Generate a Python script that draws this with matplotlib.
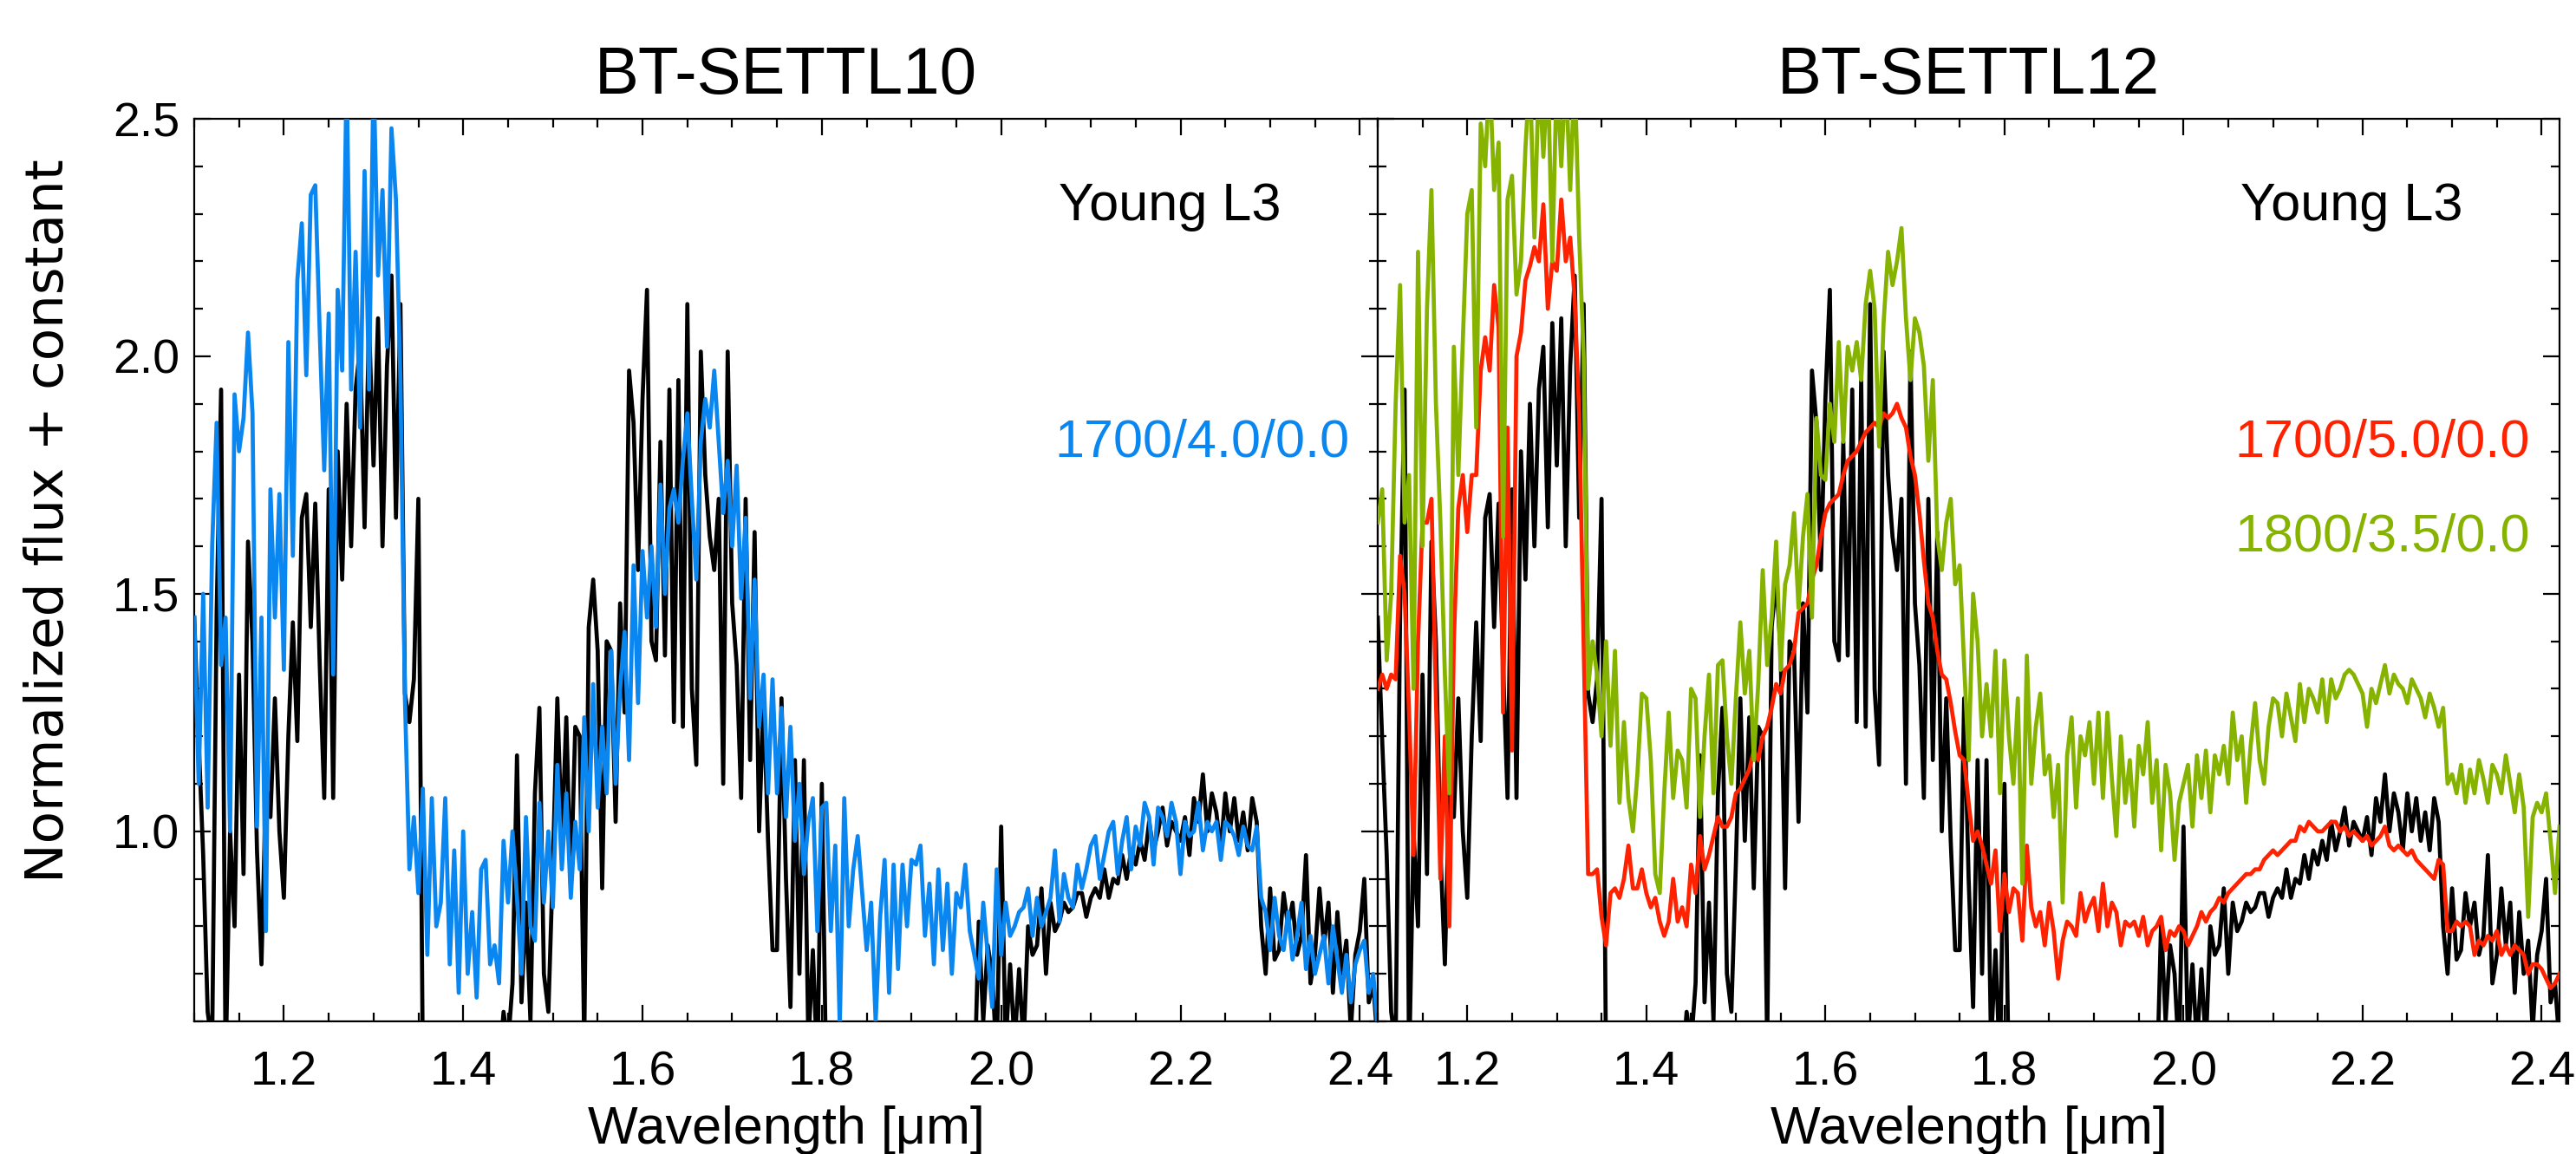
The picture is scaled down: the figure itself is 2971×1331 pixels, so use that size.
import numpy as np
import matplotlib
matplotlib.use('Agg')
import matplotlib.pyplot as plt
from matplotlib.ticker import MultipleLocator, FormatStrFormatter

plt.rcParams['font.family'] = ['Liberation Sans', 'DejaVu Sans']

# wavelength grid of the sampled spectra (micron)
WL_START = 1.100
WL_STEP = 0.005

# observed young L3 spectrum (black), one row = 0.05 micron
black_flux = [
    1.45, 1.19, 0.95, 0.62, 0.55, 1.46, 1.93, 0.50, 1.00, 0.80,
    1.33, 0.91, 1.61, 1.40, 0.96, 0.72, 1.10, 1.03, 1.28, 1.00,
    0.86, 1.20, 1.44, 1.19, 1.66, 1.71, 1.43, 1.69, 1.35, 1.07,
    1.72, 1.07, 1.80, 1.53, 1.90, 1.60, 1.93, 2.02, 1.64, 2.07,
    1.77, 2.08, 1.60, 1.98, 2.17, 1.66, 2.11, 1.29, 1.23, 1.32,
    1.70, 0.50, 0.45, 0.45, 0.45, 0.45, 0.45, 0.45, 0.45, 0.45,
    0.45, 0.45, 0.45, 0.45, 0.45, 0.45, 0.45, 0.45, 0.50, 0.62,
    0.55, 0.68, 1.16, 0.64, 0.85, 0.60, 1.08, 1.26, 0.70, 0.62,
    0.93, 1.28, 0.98, 1.24, 0.88, 1.22, 1.20, 0.55, 1.43, 1.53,
    1.38, 0.88, 1.40, 1.38, 1.02, 1.48, 1.25, 1.97, 1.86, 1.55,
    1.91, 2.14, 1.40, 1.36, 1.82, 1.37, 1.93, 1.23, 1.95, 1.22,
    2.11, 1.30, 1.14, 2.01, 1.75, 1.62, 1.55, 1.70, 1.10, 2.01,
    1.48, 1.35, 1.07, 1.70, 1.15, 1.63, 1.00, 1.28, 0.98, 0.75,
    0.75, 1.28, 0.90, 0.63, 1.15, 0.70, 1.15, 0.55, 0.75, 0.50,
    1.10, 0.45, 0.45, 0.45, 0.45, 0.45, 0.45, 0.45, 0.45, 0.45,
    0.45, 0.45, 0.45, 0.45, 0.45, 0.45, 0.45, 0.45, 0.45, 0.45,
    0.45, 0.45, 0.45, 0.45, 0.45, 0.45, 0.45, 0.45, 0.45, 0.45,
    0.45, 0.45, 0.45, 0.45, 0.45, 0.81, 0.60, 0.76, 0.70, 0.52,
    1.01, 0.55, 0.72, 0.55, 0.71, 0.55, 0.80, 0.74, 0.76, 0.88,
    0.70, 0.85, 0.79, 0.81, 0.85, 0.83, 0.84, 0.87, 0.87, 0.82,
    0.86, 0.88, 0.86, 0.92, 0.86, 0.90, 0.89, 0.95, 0.90, 0.96,
    0.93, 0.98, 0.94, 1.02, 0.96, 1.00, 1.05, 0.97, 1.02, 1.00,
    0.98, 1.03, 0.95, 1.07, 1.02, 1.12, 1.00, 1.08, 1.04, 0.96,
    1.08, 1.00, 1.07, 0.98, 1.04, 0.96, 1.07, 1.02, 0.80, 0.70,
    0.88, 0.73, 0.75, 0.87, 0.80, 0.85, 0.74, 0.78, 0.95, 0.68,
    0.74, 0.88, 0.76, 0.85, 0.66, 0.83, 0.70, 0.77, 0.58, 0.74,
    0.79, 0.90, 0.64, 0.68, 0.55,
]

# BT-SETTL10 1700/4.0/0.0 (blue)
blue_flux = [
    1.45, 1.10, 1.50, 1.05, 1.60, 1.86, 1.35, 1.45, 1.00, 1.92,
    1.80, 1.87, 2.05, 1.88, 1.01, 1.45, 0.79, 1.72, 1.45, 1.71,
    1.34, 2.03, 1.58, 2.16, 2.28, 1.96, 2.34, 2.36, 2.05, 1.76,
    2.09, 1.33, 2.14, 1.97, 2.60, 1.93, 2.22, 1.85, 2.39, 1.93,
    2.60, 2.17, 2.35, 2.02, 2.48, 2.33, 1.95, 1.28, 0.92, 1.03,
    0.87, 1.09, 0.74, 1.07, 0.80, 0.85, 1.07, 0.72, 0.96, 0.66,
    1.00, 0.70, 0.83, 0.65, 0.92, 0.94, 0.72, 0.76, 0.68, 0.98,
    0.85, 1.00, 0.86, 0.70, 1.03, 0.80, 0.77, 1.06, 0.85, 1.00,
    0.84, 1.14, 0.92, 1.08, 0.86, 1.02, 0.92, 1.24, 1.00, 1.31,
    1.05, 1.22, 1.08, 1.38, 1.10, 1.30, 1.42, 1.15, 1.56, 1.27,
    1.59, 1.45, 1.60, 1.43, 1.73, 1.50, 1.68, 1.72, 1.65, 1.78,
    1.88, 1.70, 1.53, 1.82, 1.91, 1.85, 1.97, 1.82, 1.67, 1.78,
    1.60, 1.77, 1.49, 1.66, 1.28, 1.53, 1.22, 1.33, 1.08, 1.32,
    1.08, 1.26, 1.03, 1.22, 0.98, 1.10, 0.91, 1.02, 1.07, 0.79,
    1.05, 1.06, 0.79, 0.97, 0.59, 1.07, 0.80, 0.92, 0.99, 0.87,
    0.75, 0.85, 0.60, 0.82, 0.94, 0.66, 0.93, 0.71, 0.93, 0.80,
    0.94, 0.93, 0.97, 0.78, 0.89, 0.72, 0.92, 0.75, 0.89, 0.70,
    0.87, 0.84, 0.93, 0.79, 0.74, 0.69, 0.85, 0.74, 0.63, 0.92,
    0.74, 0.85, 0.78, 0.80, 0.83, 0.84, 0.88, 0.78, 0.86, 0.80,
    0.83, 0.86, 0.96, 0.81, 0.91, 0.86, 0.84, 0.93, 0.88, 0.92,
    0.97, 0.99, 0.90, 0.95, 1.00, 1.02, 0.91, 0.98, 1.03, 0.92,
    1.01, 0.97, 1.06, 1.03, 0.93, 1.05, 1.03, 0.99, 1.06, 1.02,
    0.91, 1.02, 0.99, 1.00, 1.06, 0.96, 1.02, 1.00, 1.02, 0.94,
    1.02, 1.01, 0.99, 0.95, 1.01, 0.97, 0.96, 1.01, 0.86, 0.83,
    0.75, 0.86, 0.78, 0.75, 0.83, 0.73, 0.78, 0.85, 0.71, 0.78,
    0.70, 0.74, 0.78, 0.68, 0.80, 0.73, 0.66, 0.74, 0.64, 0.72,
    0.75, 0.77, 0.66, 0.70, 0.58,
]

# BT-SETTL12 1700/5.0/0.0 (red)
red_flux = [
    1.30, 1.33, 1.30, 1.33, 1.32, 1.58, 1.50, 1.25, 0.95, 1.40,
    1.65, 1.65, 1.70, 1.28, 0.90, 1.20, 0.80, 1.40, 1.68, 1.75,
    1.63, 1.75, 1.75, 1.97, 2.04, 1.97, 2.15, 2.06, 1.25, 1.85,
    1.17, 2.00, 2.05, 2.16, 2.19, 2.23, 2.20, 2.32, 2.10, 2.20,
    2.18, 2.33, 2.20, 2.25, 2.12, 1.88, 1.40, 0.91, 0.91, 0.92,
    0.82, 0.76, 0.87, 0.88, 0.86, 0.90, 0.97, 0.88, 0.88, 0.92,
    0.87, 0.84, 0.86, 0.81, 0.78, 0.81, 0.90, 0.81, 0.84, 0.80,
    0.93, 0.87, 0.99, 0.92, 0.95, 0.99, 1.03, 1.01, 1.01, 1.03,
    1.08, 1.09, 1.11, 1.13, 1.17, 1.15, 1.20, 1.22, 1.26, 1.31,
    1.29, 1.34, 1.35, 1.38, 1.46, 1.47, 1.48, 1.53, 1.56, 1.62,
    1.67, 1.69, 1.70, 1.71, 1.75, 1.78, 1.79, 1.80, 1.82, 1.84,
    1.85, 1.86, 1.85, 1.88, 1.87, 1.88, 1.90, 1.87, 1.85, 1.79,
    1.75, 1.67, 1.57, 1.48, 1.45, 1.38, 1.33, 1.32, 1.27, 1.21,
    1.16, 1.15, 1.06, 0.98, 1.00, 0.97, 0.93, 0.89, 0.96, 0.79,
    0.91, 0.83, 0.88, 0.87, 0.77, 0.97, 0.84, 0.80, 0.83, 0.76,
    0.85, 0.79, 0.69, 0.77, 0.81, 0.80, 0.78, 0.87, 0.81, 0.84,
    0.86, 0.79, 0.89, 0.80, 0.85, 0.83, 0.76, 0.81, 0.80, 0.81,
    0.78, 0.82, 0.76, 0.79, 0.80, 0.82, 0.75, 0.79, 0.78, 0.80,
    0.79, 0.76, 0.78, 0.80, 0.83, 0.81, 0.83, 0.84, 0.86, 0.85,
    0.87, 0.88, 0.89, 0.90, 0.91, 0.91, 0.92, 0.92, 0.94, 0.95,
    0.96, 0.95, 0.96, 0.97, 0.98, 0.98, 1.01, 1.00, 1.02, 1.01,
    1.00, 1.00, 1.01, 1.02, 1.02, 1.00, 1.01, 0.99, 1.00, 0.99,
    0.98, 0.99, 0.97, 0.98, 0.99, 1.01, 0.97, 0.96, 0.97, 0.96,
    0.95, 0.96, 0.94, 0.93, 0.92, 0.91, 0.90, 0.94, 0.93, 0.79,
    0.79, 0.81, 0.80, 0.81, 0.80, 0.74, 0.77, 0.76, 0.78, 0.77,
    0.79, 0.74, 0.76, 0.74, 0.76, 0.75, 0.74, 0.70, 0.72, 0.72,
    0.71, 0.69, 0.67, 0.68, 0.70,
]

# BT-SETTL12 1800/3.5/0.0 (green)
green_flux = [
    1.65, 1.72, 1.36, 1.50, 1.90, 2.15, 1.65, 1.75, 1.30, 2.22,
    1.60, 2.10, 2.35, 1.90, 1.65, 1.33, 1.08, 2.02, 1.75, 2.03,
    2.30, 2.35, 1.85, 2.49, 2.40, 2.60, 2.35, 2.45, 1.62, 2.33,
    2.38, 2.13, 2.20, 2.44, 2.60, 2.25, 2.60, 2.42, 2.60, 2.20,
    2.60, 2.40, 2.60, 2.35, 2.60, 2.25, 2.00, 1.30, 1.40, 1.33,
    1.20, 1.40, 1.18, 1.38, 1.06, 1.23, 1.07, 1.00, 1.12, 1.29,
    1.28, 1.15, 0.91, 0.87, 1.08, 1.25, 1.07, 1.17, 1.15, 1.05,
    1.30, 1.28, 1.03, 1.20, 1.33, 1.08, 1.35, 1.36, 1.20, 1.10,
    1.28, 1.44, 1.29, 1.38, 1.15, 1.31, 1.55, 1.35, 1.45, 1.61,
    1.34, 1.52, 1.56, 1.67, 1.47, 1.62, 1.71, 1.45, 1.87, 1.75,
    1.74, 1.90, 1.82, 2.03, 1.82, 2.02, 1.97, 2.03, 1.95, 2.11,
    2.18, 2.10, 1.81, 2.07, 2.22, 2.15, 2.20, 2.27, 2.08, 1.95,
    2.08, 2.05, 1.98, 1.78, 1.95, 1.62, 1.55, 1.65, 1.70, 1.52,
    1.56, 1.35, 1.15, 1.50, 1.40, 1.20, 1.31, 1.20, 1.38, 1.08,
    1.36, 1.20, 1.10, 1.28, 0.89, 1.37, 1.10, 1.22, 1.29, 1.12,
    1.16, 1.03, 1.14, 0.85, 1.16, 1.24, 1.05, 1.20, 1.16, 1.23,
    1.10, 1.25, 1.07, 1.25, 1.11, 0.99, 1.20, 1.06, 1.15, 1.01,
    1.18, 1.12, 1.23, 1.06, 1.15, 0.96, 1.14, 1.08, 0.94, 1.06,
    1.10, 1.14, 1.01, 1.16, 1.07, 1.17, 1.04, 1.16, 1.12, 1.18,
    1.10, 1.25, 1.15, 1.20, 1.06, 1.18, 1.27, 1.15, 1.10, 1.22,
    1.28, 1.27, 1.20, 1.29, 1.24, 1.19, 1.31, 1.23, 1.30, 1.28,
    1.25, 1.32, 1.23, 1.32, 1.28, 1.30, 1.33, 1.34, 1.33, 1.31,
    1.29, 1.22, 1.30, 1.27, 1.31, 1.35, 1.29, 1.33, 1.31, 1.30,
    1.27, 1.32, 1.30, 1.28, 1.24, 1.29, 1.26, 1.22, 1.26, 1.10,
    1.12, 1.08, 1.14, 1.06, 1.13, 1.08, 1.15, 1.11, 1.06, 1.14,
    1.12, 1.08, 1.16, 1.10, 1.04, 1.12, 1.05, 0.82, 1.03, 1.06,
    1.04, 1.08, 0.98, 0.87, 1.01,
]

panel_titles = ['BT-SETTL10', 'BT-SETTL12']
object_label = 'Young L3'
blue_label = '1700/4.0/0.0'
red_label = '1700/5.0/0.0'
green_label = '1800/3.5/0.0'

C_BLACK = '#000000'
C_BLUE = '#0A86F0'
C_RED = '#FF2200'
C_GREEN = '#86B300'


def wavelengths(values):
    return WL_START + WL_STEP * np.arange(len(values))


W, H = 2971, 1331
fig = plt.figure(figsize=(W / 100, H / 100), dpi=100)
axL = fig.add_axes([224 / W, (H - 1178) / H, 1365 / W, 1041 / H])
axR = fig.add_axes([1589 / W, (H - 1178) / H, 1363 / W, 1041 / H])

LW = 3.4
axL.plot(wavelengths(black_flux), black_flux, color=C_BLACK, lw=LW, zorder=2)
axL.plot(wavelengths(blue_flux), blue_flux, color=C_BLUE, lw=LW, zorder=3)

axR.plot(wavelengths(black_flux), black_flux, color=C_BLACK, lw=LW, zorder=2)
axR.plot(wavelengths(red_flux), red_flux, color=C_RED, lw=LW, zorder=3)
axR.plot(wavelengths(green_flux), green_flux, color=C_GREEN, lw=LW, zorder=4)

for ax, title in zip((axL, axR), panel_titles):
    ax.set_xlim(1.1, 2.42)
    ax.set_ylim(0.6, 2.5)
    ax.xaxis.set_major_locator(MultipleLocator(0.2))
    ax.xaxis.set_minor_locator(MultipleLocator(0.05))
    ax.yaxis.set_major_locator(MultipleLocator(0.5))
    ax.yaxis.set_minor_locator(MultipleLocator(0.1))
    ax.xaxis.set_major_formatter(FormatStrFormatter('%.1f'))
    ax.yaxis.set_major_formatter(FormatStrFormatter('%.1f'))
    ax.tick_params(which='both', direction='in', top=True, right=True,
                   width=1.6, labelsize=40)
    ax.tick_params(which='major', length=14)
    ax.tick_params(which='minor', length=7)
    ax.tick_params(axis='x', pad=24)
    ax.tick_params(axis='y', pad=12)
    for sp in ax.spines.values():
        sp.set_linewidth(1.6)
    ax.set_title(title, fontsize=55, pad=21)
    ax.set_xlabel('Wavelength [\u03bcm]', fontsize=44)
    ax.xaxis.set_label_coords(0.5, -0.093)
    ax.text(0.918, 0.8876, object_label, transform=ax.transAxes,
            ha='right', va='baseline', fontsize=44, color='black')

axR.tick_params(labelleft=False)

axL.text(0.976, 0.625, blue_label, transform=axL.transAxes,
         ha='right', va='baseline', fontsize=44, color=C_BLUE)
axR.text(0.975, 0.625, red_label, transform=axR.transAxes,
         ha='right', va='baseline', fontsize=44, color=C_RED)
axR.text(0.975, 0.521, green_label, transform=axR.transAxes,
         ha='right', va='baseline', fontsize=44, color=C_GREEN)

fig.text(57 / W, 1 - 601 / H, 'Normalized flux + constant', rotation=90,
         ha='center', va='center', fontsize=44, family='DejaVu Sans')

fig.savefig('out.png', dpi=100)
